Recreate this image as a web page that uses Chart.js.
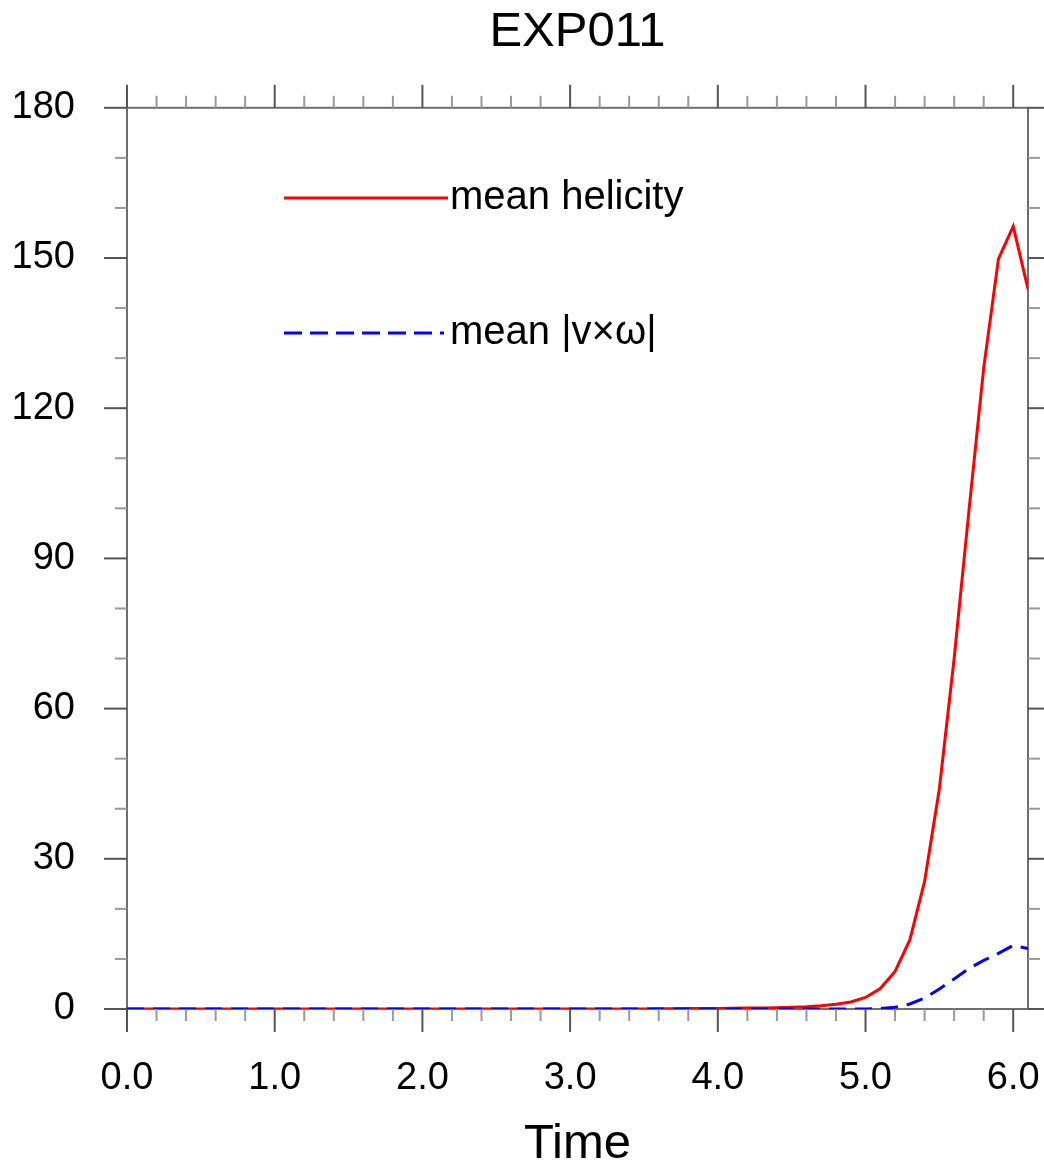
<!DOCTYPE html>
<html>
<head>
<meta charset="utf-8">
<title>EXP011</title>
<script src="https://cdn.jsdelivr.net/npm/chart.js@4.4.1/dist/chart.umd.min.js"></script>
<style>
  html, body { margin: 0; padding: 0; background: #fff; }
  #wrap { width: 1044px; height: 1171px; position: relative; }
</style>
</head>
<body>
<div id="wrap"><canvas id="helicityChart"></canvas></div>
<script>
// Zeitachse (Schritt 0.1)
const timeValues = [
  0.0, 0.1, 0.2, 0.3, 0.4, 0.5, 0.6, 0.7, 0.8, 0.9,
  1.0, 1.1, 1.2, 1.3, 1.4, 1.5, 1.6, 1.7, 1.8, 1.9,
  2.0, 2.1, 2.2, 2.3, 2.4, 2.5, 2.6, 2.7, 2.8, 2.9,
  3.0, 3.1, 3.2, 3.3, 3.4, 3.5, 3.6, 3.7, 3.8, 3.9,
  4.0, 4.1, 4.2, 4.3, 4.4, 4.5, 4.6, 4.7, 4.8, 4.9,
  5.0, 5.1, 5.2, 5.3, 5.4, 5.5, 5.6, 5.7, 5.8, 5.9,
  6.0, 6.1
];

// mean helicity
const meanHelicity = [
  0, 0, 0, 0, 0, 0, 0, 0, 0, 0,
  0, 0, 0, 0, 0, 0, 0, 0, 0, 0,
  0, 0, 0, 0, 0, 0, 0, 0, 0, 0,
  0, 0, 0, 0, 0, 0, 0.05, 0.06, 0.08, 0.1,
  0.12, 0.15, 0.18, 0.22, 0.27, 0.33, 0.45, 0.65, 0.95, 1.4,
  2.3, 4.1, 7.5, 13.8, 25.5, 44, 70, 99.5, 128, 149.8,
  156.3, 143.8
];

// mean |v x omega|
const meanVxW = [
  0, 0, 0, 0, 0, 0, 0, 0, 0, 0,
  0, 0, 0, 0, 0, 0, 0, 0, 0, 0,
  0, 0, 0, 0, 0, 0, 0, 0, 0, 0,
  0, 0, 0, 0, 0, 0, 0, 0, 0, 0,
  0, 0, 0, 0, 0, 0, 0, 0, 0, 0,
  0.02, 0.1, 0.35, 1.0, 2.2, 4.0, 6.0, 8.1, 9.7, 11.1,
  12.7, 12.1
];

// Achsen-Ticks
const xMinorTicks = [0.2, 0.4, 0.6, 0.8, 1.2, 1.4, 1.6, 1.8, 2.2, 2.4, 2.6, 2.8,
  3.2, 3.4, 3.6, 3.8, 4.2, 4.4, 4.6, 4.8, 5.2, 5.4, 5.6, 5.8];
const yMinorTicks = [10, 20, 40, 50, 70, 80, 100, 110, 130, 140, 160, 170];

const seriesLabels = ['mean helicity', 'mean |v\u00d7\u03c9|'];

const FONT = '"Liberation Sans", Arial, Helvetica, sans-serif';

// Rahmen + Ticks auf allen vier Seiten (NCL-Stil, nach aussen)
const frameTicks = {
  id: 'frameTicks',
  beforeDatasetsDraw(chart) {
    const { ctx, chartArea: a, scales: { x, y } } = chart;
    ctx.save();
    ctx.strokeStyle = '#6e6e6e';
    ctx.lineWidth = 2;
    ctx.strokeRect(a.left, a.top, a.right - a.left, a.bottom - a.top);

    const tick = (x1, y1, x2, y2, major) => {
      ctx.strokeStyle = major ? '#555' : '#999';
      ctx.lineWidth = 2;
      ctx.beginPath();
      ctx.moveTo(x1, y1);
      ctx.lineTo(x2, y2);
      ctx.stroke();
    };
    const majLen = 23, minLen = 12;

    x.ticks.forEach(t => {
      const px = x.getPixelForValue(t.value);
      tick(px, a.bottom, px, a.bottom + majLen, true);
      tick(px, a.top, px, a.top - majLen, true);
    });
    xMinorTicks.forEach(v => {
      const px = x.getPixelForValue(v);
      tick(px, a.bottom, px, a.bottom + minLen, false);
      tick(px, a.top, px, a.top - minLen, false);
    });
    y.ticks.forEach(t => {
      const py = y.getPixelForValue(t.value);
      tick(a.left, py, a.left - majLen, py, true);
      tick(a.right, py, a.right + majLen, py, true);
    });
    yMinorTicks.forEach(v => {
      const py = y.getPixelForValue(v);
      tick(a.left, py, a.left - minLen, py, false);
      tick(a.right, py, a.right + minLen, py, false);
    });
    ctx.restore();
  }
};

// Legende innerhalb der Zeichenflaeche
const insideLegend = {
  id: 'insideLegend',
  afterDraw(chart) {
    const { ctx } = chart;
    const items = [
      { y: 198, color: '#ff0000', dash: [], x2: 448 },
      { y: 333, color: '#0000ff', dash: [18, 8], x2: 444 }
    ];
    ctx.save();
    items.forEach((it, i) => {
      ctx.strokeStyle = it.color;
      ctx.lineWidth = 3;
      ctx.setLineDash(it.dash);
      ctx.beginPath();
      ctx.moveTo(284, it.y);
      ctx.lineTo(it.x2, it.y);
      ctx.stroke();
      ctx.setLineDash([]);
      ctx.fillStyle = '#000';
      ctx.font = '40px ' + FONT;
      ctx.textAlign = 'left';
      ctx.textBaseline = 'alphabetic';
      ctx.fillText(seriesLabels[i], 450, it.y + 11);
    });
    ctx.restore();
  }
};

const ctx = document.getElementById('helicityChart');
new Chart(ctx, {
  type: 'line',
  data: {
    datasets: [
      {
        label: seriesLabels[0],
        data: timeValues.map((t, i) => ({ x: t, y: meanHelicity[i] })),
        borderColor: '#ff0000',
        borderWidth: 3,
        pointRadius: 0,
        tension: 0,
        fill: false,
        order: 2
      },
      {
        label: seriesLabels[1],
        data: timeValues.map((t, i) => ({ x: t, y: meanVxW[i] })),
        borderColor: '#0000ff',
        borderWidth: 3,
        borderDash: [17, 9],
        pointRadius: 0,
        tension: 0,
        fill: false,
        order: 1
      }
    ]
  },
  options: {
    responsive: true,
    maintainAspectRatio: false,
    animation: false,
    layout: { padding: { left: 0, right: 16, top: 0, bottom: 0 } },
    plugins: {
      legend: { display: false },
      tooltip: { enabled: false },
      title: {
        display: true,
        fullSize: false,
        text: 'EXP011',
        color: '#000',
        font: { family: FONT, size: 49, weight: 'normal', lineHeight: 1.2 },
        padding: { top: 3, bottom: 46 }
      }
    },
    scales: {
      x: {
        type: 'linear',
        min: 0,
        max: 6.1,
        grid: { display: false, drawTicks: false },
        border: { display: false },
        ticks: {
          stepSize: 1,
          includeBounds: false,
          padding: 47,
          color: '#000',
          maxRotation: 0,
          font: { family: FONT, size: 38 },
          callback: v => v.toFixed(1)
        },
        title: {
          display: true,
          text: 'Time',
          color: '#000',
          font: { family: FONT, size: 49, lineHeight: 1.1 },
          padding: { top: 0, bottom: 0 }
        },
        afterFit: s => {
          s.height = 162;
          s.paddingLeft = 0;
          s.paddingRight = 0;
        }
      },
      y: {
        min: 0,
        max: 180,
        grid: { display: false, drawTicks: false },
        border: { display: false },
        ticks: {
          stepSize: 30,
          padding: 52,
          color: '#000',
          font: { family: FONT, size: 38 }
        },
        afterFit: s => {
          s.width = 127;
          s.paddingTop = 0;
          s.paddingBottom = 0;
        }
      }
    }
  },
  plugins: [frameTicks, insideLegend]
});
</script>
</body>
</html>
